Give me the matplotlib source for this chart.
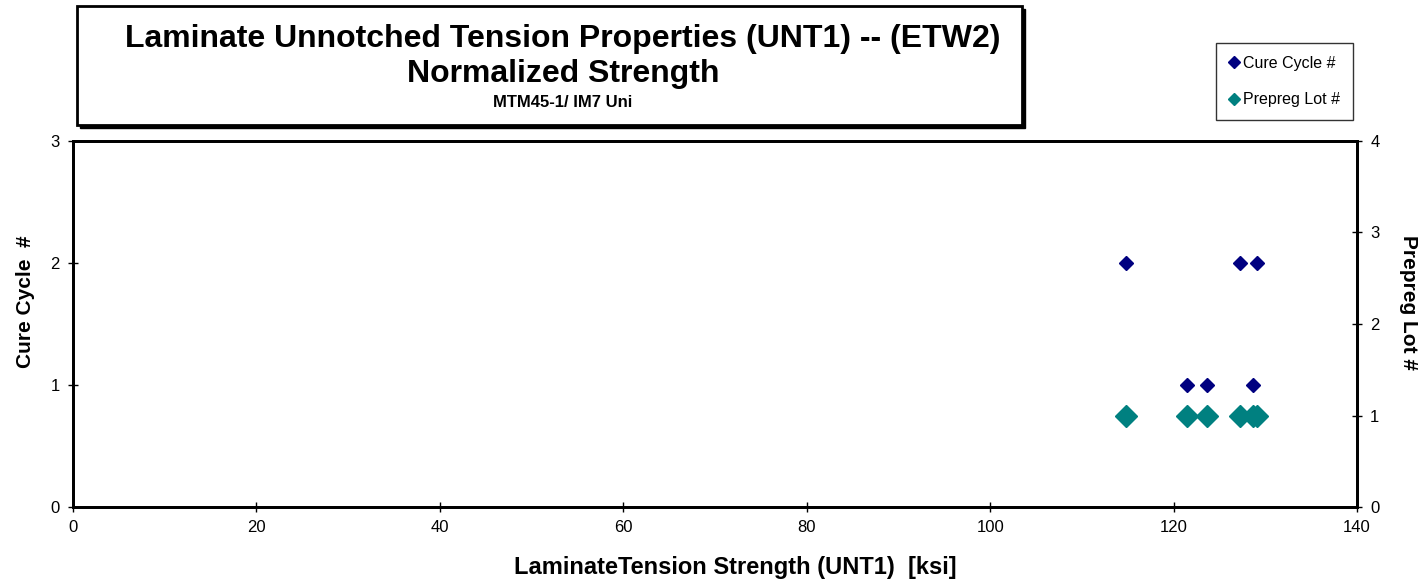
import matplotlib.pyplot as plt
from matplotlib.patches import Rectangle

plt.rcParams['font.family'] = ['Liberation Sans', 'DejaVu Sans']

# data
strength = [114.8, 121.5, 123.6, 127.2, 128.7, 129.1]
cure_cycle = [2, 1, 1, 2, 1, 2]
prepreg_lot = [1, 1, 1, 1, 1, 1]
x_ticks = [0, 20, 40, 60, 80, 100, 120, 140]

fig = plt.figure(figsize=(14.25, 5.84), dpi=100)
ax = fig.add_axes([0.0512, 0.1318, 0.9011, 0.6268])
ax2 = ax.twinx()

ax.plot(strength, cure_cycle, linestyle='none', marker='D', color='#000080',
        markersize=7, label='Cure Cycle #', zorder=3)
ax2.plot(strength, prepreg_lot, linestyle='none', marker='D', color='#008080',
         markersize=11, label='Prepreg Lot #', zorder=3)

ax.set_xlim(0, 140)
ax.set_ylim(0, 3)
ax2.set_ylim(0, 4)
ax.set_xticks(x_ticks)
ax.set_yticks([0, 1, 2, 3])
ax2.set_yticks([0, 1, 2, 3, 4])

for a in (ax, ax2):
    for s in a.spines.values():
        s.set_linewidth(2)
    a.tick_params(labelsize=12, length=7, width=1, direction='inout', pad=6)

ax.set_xlabel('LaminateTension Strength (UNT1)  [ksi]', fontsize=17,
              fontweight='bold', va='center')
ax.xaxis.set_label_coords(0.5156, -0.164)
ax.set_ylabel('Cure Cycle  #', fontsize=15, fontweight='bold', va='center')
ax.yaxis.set_label_coords(-0.037, 0.56)
ax2.set_ylabel('Prepreg Lot #', fontsize=15, fontweight='bold', rotation=-90, va='center')
ax2.yaxis.set_label_coords(1.040, 0.56)

# title box with shadow
fig.patches.append(Rectangle((0.056, 0.780), 0.663, 0.204, transform=fig.transFigure,
                             facecolor='black', edgecolor='black', zorder=0))
fig.patches.append(Rectangle((0.054, 0.786), 0.663, 0.204, transform=fig.transFigure,
                             facecolor='white', edgecolor='black', linewidth=2, zorder=1))
fig.text(0.395, 0.934, 'Laminate Unnotched Tension Properties (UNT1) -- (ETW2)',
         ha='center', va='center', fontsize=23, fontweight='bold')
fig.text(0.395, 0.873, 'Normalized Strength', ha='center', va='center',
         fontsize=23, fontweight='bold')
fig.text(0.395, 0.824, 'MTM45-1/ IM7 Uni', ha='center', va='center',
         fontsize=12, fontweight='bold')

# legend
h1, l1 = ax.get_legend_handles_labels()
h2, l2 = ax2.get_legend_handles_labels()
leg = fig.legend(h1 + h2, l1 + l2, loc='upper left', bbox_to_anchor=(0.8533, 0.9264),
                 borderaxespad=0, frameon=True, fancybox=False, edgecolor='black',
                 fontsize=11.5, handlelength=0.6, handletextpad=0.3, labelspacing=1.35,
                 borderpad=0.8)
leg.get_frame().set_linewidth(1)
for h in leg.legend_handles:
    h.set_markersize(6)

fig.savefig('out.png', dpi=100)
